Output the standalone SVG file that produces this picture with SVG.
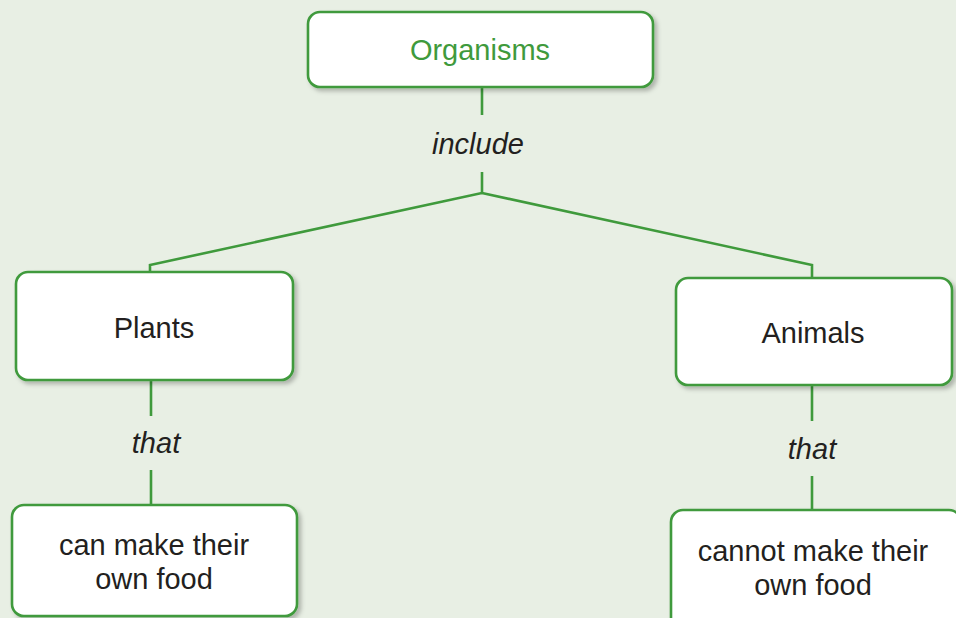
<svg xmlns="http://www.w3.org/2000/svg" width="956" height="618" viewBox="0 0 956 618">
<defs>
<filter id="sh" x="-10%" y="-10%" width="130%" height="140%">
<feDropShadow dx="3" dy="3" stdDeviation="2" flood-color="#000" flood-opacity="0.25"/>
</filter>
<style>
.box{fill:#fff;stroke:#3f9a3c;stroke-width:2.6;filter:url(#sh)}
.lbl{font-family:"Liberation Sans",Arial,sans-serif;font-size:29px;fill:#231f20;text-anchor:middle}
.it{font-style:italic}
.green{fill:#3f9a3c}
.conn{fill:none;stroke:#3f9a3c;stroke-width:2.6}
</style>
</defs>
<rect width="956" height="618" fill="#e8efe4"/>
<g id="connectors">
<path class="conn" d="M482 87V115M482 172V193L150 265V272M482 193L812 265V278"/>
<path class="conn" d="M151 380V416M151 470V505"/>
<path class="conn" d="M812 385V421M812 476V510"/>
<text class="lbl it" x="478" y="154">include</text>
<text class="lbl it" x="156" y="453">that</text>
<text class="lbl it" x="812" y="459">that</text>
</g>
<g id="organisms">
<rect class="box" x="308" y="12" width="345" height="75" rx="12"/>
<text class="lbl green" x="480" y="60">Organisms</text>
</g>
<g id="plants">
<rect class="box" x="16" y="272" width="277" height="108" rx="12"/>
<text class="lbl" x="154" y="338">Plants</text>
</g>
<g id="animals">
<rect class="box" x="676" y="278" width="276" height="107" rx="12"/>
<text class="lbl" x="813" y="343">Animals</text>
</g>
<g id="plants-food">
<rect class="box" x="12" y="505" width="285" height="111" rx="12"/>
<text class="lbl" x="154" y="555">can make their</text>
<text class="lbl" x="154" y="589">own food</text>
</g>
<g id="animals-food">
<rect class="box" x="671" y="510" width="290" height="120" rx="12"/>
<text class="lbl" x="813" y="561">cannot make their</text>
<text class="lbl" x="813" y="595">own food</text>
</g>
</svg>
